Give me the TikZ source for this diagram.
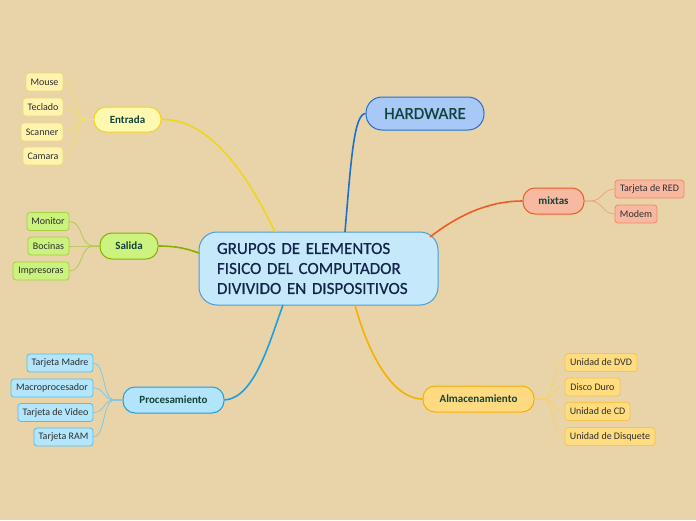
\documentclass[tikz,border=0pt]{standalone}
\usepackage{fontspec}
\setmainfont{Carlito}
\newfontfamily\ctrfont{Carlito}[FakeBold=0.6,WordSpace=0.75]
\definecolor{bg}{HTML}{E8D4A8}
\definecolor{ctrfill}{HTML}{C5E9FB}\definecolor{ctrline}{HTML}{4A9FD5}\definecolor{ctrtext}{HTML}{14244A}
\definecolor{brtext}{HTML}{12443A}\definecolor{lftext}{HTML}{2E2E2E}
\definecolor{hwfill}{HTML}{A8C8F8}\definecolor{hwline}{HTML}{1E6FD0}
\definecolor{enfill}{HTML}{FFF8B0}\definecolor{enline}{HTML}{EED520}\definecolor{enleaf}{HTML}{FFF3B0}\definecolor{enleafl}{HTML}{F0DC70}
\definecolor{safill}{HTML}{CCF280}\definecolor{saline}{HTML}{88B000}\definecolor{saleaf}{HTML}{CBF27E}\definecolor{saleafl}{HTML}{A5D040}
\definecolor{prfill}{HTML}{B2E4FB}\definecolor{prline}{HTML}{1EA0E0}\definecolor{prleaf}{HTML}{B3E5FB}\definecolor{prleafl}{HTML}{5BBDE5}
\definecolor{mifill}{HTML}{F7B9A1}\definecolor{miline}{HTML}{F05A28}\definecolor{mileaf}{HTML}{F8B8A0}\definecolor{mileafl}{HTML}{F08A6A}
\definecolor{alfill}{HTML}{FFDA80}\definecolor{alline}{HTML}{F8B000}\definecolor{alleaf}{HTML}{FFDC80}\definecolor{alleafl}{HTML}{F8C44A}
\begin{document}
\begin{tikzpicture}[x=1pt,y=-1pt,
  branch/.style={rounded corners=12pt, draw, line width=1pt, inner sep=0pt, minimum height=26pt,
    font=\fontsize{11}{13}\selectfont\bfseries, text=brtext},
  leaf/.style={rounded corners=3pt, draw, line width=0.8pt, inner sep=0pt, minimum height=18pt,
    font=\fontsize{10}{12}\selectfont, text=lftext},
  mainlink/.style={line width=1.6pt},
  leaflink/.style={line width=0.7pt}]
\useasboundingbox (0,0) rectangle (696,520);
\fill[bg] (0,0) rectangle (696,520);

% center
\node[draw=ctrline, fill=ctrfill, line width=1pt, rounded corners=18pt, minimum width=239pt, minimum height=73pt,
  inner xsep=18pt, inner ysep=0pt, text width=203pt, align=left, text=ctrtext,
  font=\ctrfont\fontsize{17}{20}\selectfont] (c) at (318.5,268.5)
  {GRUPOS DE ELEMENTOS\\FISICO DEL COMPUTADOR\\DIVIVIDO EN DISPOSITIVOS};

\node[draw=hwline, fill=hwfill, line width=1pt, rounded corners=16pt, minimum width=118pt, minimum height=33pt,
  inner sep=0pt, text=brtext, font=\ctrfont\fontsize{17}{19}\selectfont] (hw) at (425,113.5) {HARDWARE};

% branches
\node[branch, draw=enline, fill=enfill, minimum width=67pt, minimum height=25pt] (en) at (127.5,119.5) {Entrada};
\node[branch, draw=saline, fill=safill, minimum width=58pt] (sa) at (129,246) {Salida};
\node[branch, draw=prline, fill=prfill, minimum width=101pt] (pr) at (173.5,400) {Procesamiento};
\node[branch, draw=miline, fill=mifill, minimum width=61pt] (mi) at (553.5,201) {mixtas};
\node[branch, draw=alline, fill=alfill, minimum width=111pt] (al) at (478.5,399) {Almacenamiento};

% connection points on the center node
\coordinate (cHW) at (345,232);
\coordinate (cEN) at (275,232);
\coordinate (cSA) at (199,253);
\coordinate (cPR) at (283,305);
\coordinate (cMI) at (430,237);
\coordinate (cAL) at (355,305);

% leaves
\node[leaf, draw=enleafl, fill=enleaf, minimum width=37pt] (e1) at (44.5,82) {Mouse};
\node[leaf, draw=enleafl, fill=enleaf, minimum width=40pt] (e2) at (43,107) {Teclado};
\node[leaf, draw=enleafl, fill=enleaf, minimum width=42pt] (e3) at (42,132) {Scanner};
\node[leaf, draw=enleafl, fill=enleaf, minimum width=40pt] (e4) at (43,156) {Camara};

\node[leaf, draw=saleafl, fill=saleaf, minimum width=42pt] (s1) at (48,221.5) {Monitor};
\node[leaf, draw=saleafl, fill=saleaf, minimum width=41pt] (s2) at (48.5,246) {Bocinas};
\node[leaf, draw=saleafl, fill=saleaf, minimum width=56pt] (s3) at (41,271) {Impresoras};

\node[leaf, draw=prleafl, fill=prleaf, minimum width=66pt] (p1) at (60,363) {Tarjeta Madre};
\node[leaf, draw=prleafl, fill=prleaf, minimum width=82pt] (p2) at (52,388) {Macroprocesador};
\node[leaf, draw=prleafl, fill=prleaf, minimum width=75pt] (p3) at (55.5,412.5) {Tarjeta de Video};
\node[leaf, draw=prleafl, fill=prleaf, minimum width=59pt] (p4) at (63.5,437) {Tarjeta RAM};

\node[leaf, draw=mileafl, fill=mileaf, minimum width=69pt] (m1) at (649.5,189) {Tarjeta de RED};
\node[leaf, draw=mileafl, fill=mileaf, minimum width=42pt] (m2) at (636,214) {Modem};

\node[leaf, draw=alleafl, fill=alleaf, minimum width=72pt] (a1) at (601,362.5) {Unidad de DVD};
\node[leaf, draw=alleafl, fill=alleaf, minimum width=55pt] (a2) at (592.5,387) {Disco Duro};
\node[leaf, draw=alleafl, fill=alleaf, minimum width=65pt] (a3) at (597.5,411.5) {Unidad de CD};
\node[leaf, draw=alleafl, fill=alleaf, minimum width=90pt] (a4) at (610,436.5) {Unidad de Disquete};

% main connectors
\draw[mainlink, hwline] (cHW) .. controls (351,160) and (354,114) .. (hw.west);
\draw[mainlink, enline] (en.east) .. controls (215,118) and (255,190) .. (cEN);
\draw[mainlink, saline] (sa.east) .. controls (180,246) and (190,250) .. (cSA);
\draw[mainlink, prline] (pr.east) .. controls (255,398) and (270,340) .. (cPR);
\draw[mainlink, miline] (cMI) .. controls (465,210) and (495,201) .. (mi.west);
\draw[mainlink, alline] (cAL) .. controls (370,360) and (395,399) .. (al.west);

% leaf connectors
\foreach \l in {e1,e2,e3,e4}
  \draw[leaflink, enline!70] (en.west) -- ++(-6,0) .. controls +(-14,0) and +(14,0) .. (\l.east);
\foreach \l in {s1,s2,s3}
  \draw[leaflink, saline!70] (sa.west) -- ++(-6,0) .. controls +(-14,0) and +(14,0) .. (\l.east);
\foreach \l in {p1,p2,p3,p4}
  \draw[leaflink, prline!60] (pr.west) -- ++(-8,0) .. controls +(-12,0) and +(12,0) .. (\l.east);
\foreach \l in {m1,m2}
  \draw[leaflink, miline!60] (mi.east) -- ++(6,0) .. controls +(12,0) and +(-12,0) .. (\l.west);
\foreach \l in {a1,a2,a3,a4}
  \draw[leaflink, alline!60] (al.east) -- ++(8,0) .. controls +(12,0) and +(-12,0) .. (\l.west);
\end{tikzpicture}
\end{document}
